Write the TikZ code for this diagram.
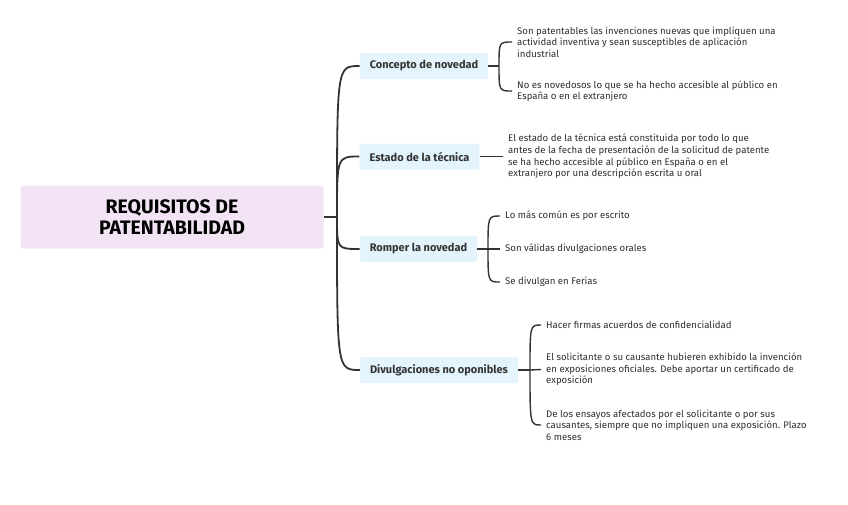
\documentclass[tikz,border=0pt]{standalone}
\usepackage{fontspec}
\setmainfont{Fira Sans}
\usepackage{tikz}
\usetikzlibrary{calc}
\definecolor{rootpink}{HTML}{F2E4F4}
\definecolor{topicblue}{HTML}{E3F4FC}
\definecolor{inkgray}{HTML}{333333}
\definecolor{leafgray}{HTML}{2E2E2E}

\begin{document}
\begin{tikzpicture}[x=1pt,y=-1pt,
 rootbox/.style={rounded corners=3pt,fill=rootpink,minimum width=303pt,minimum height=63pt,
  align=center,inner sep=0pt,font=\fontsize{19.5}{21}\selectfont\bfseries},
 topic/.style={rounded corners=2pt,fill=topicblue,minimum height=26pt,inner xsep=10pt,
  inner ysep=0pt,text=inkgray,font=\fontsize{11}{13}\selectfont\bfseries},
 leaf/.style={anchor=west,align=left,inner xsep=5pt,inner ysep=0pt,text=leafgray,
  font=\fontsize{9.6}{11.6}\selectfont},
 trunk/.style={draw=inkgray,line width=1.8pt},
 twig/.style={draw=inkgray,line width=1.4pt}]
\useasboundingbox (0,0) rectangle (848,504);

% raiz
\node[rootbox] (root) at (172,217) {REQUISITOS DE\\PATENTABILIDAD};
\coordinate (hub) at (337,217);

% temas
\node[topic] (concepto) at (424,66) {Concepto de novedad};
\node[topic] (estado) at (419.5,156.5) {Estado de la técnica};
\node[topic] (romper) at (418.5,249) {Romper la novedad};
\node[topic] (divulg) at (439,370) {Divulgaciones no oponibles};

\draw[trunk] (root.east) -- (hub);
\draw[trunk] (hub) .. controls (hub |- concepto.west) .. (concepto.west);
\draw[trunk] (hub) .. controls (hub |- estado.west) .. (estado.west);
\draw[trunk] (hub) .. controls (hub |- romper.west) .. (romper.west);
\draw[trunk] (hub) .. controls (hub |- divulg.west) .. (divulg.west);

% concepto de novedad
\coordinate (hubC) at (499,66);
\node[leaf] (c1) at (512,42) {Son patentables las invenciones nuevas que impliquen una\\
 actividad inventiva y sean susceptibles de aplicación\\industrial};
\node[leaf] (c2) at (512,91) {No es novedosos lo que se ha hecho accesible al público en\\
 España o en el extranjero};
\draw[twig] (concepto.east) -- (hubC);
\draw[twig] (hubC) .. controls (hubC |- c1.west) .. (c1.west);
\draw[twig] (hubC) .. controls (hubC |- c2.west) .. (c2.west);

% estado de la tecnica
\node[leaf] (e1) at (503,156.5) {El estado de la técnica está constituida por todo lo que\\
 antes de la fecha de presentación de la solicitud de patente\\
 se ha hecho accesible al público en España o en el\\
 extranjero por una descripción escrita u oral};
\draw[twig] (estado.east) -- (e1.west);

% romper la novedad
\coordinate (hubR) at (488,249);
\node[leaf] (r1) at (500,216) {Lo más común es por escrito};
\node[leaf] (r2) at (500,249) {Son válidas divulgaciones orales};
\node[leaf] (r3) at (500,282) {Se divulgan en Ferias};
\draw[twig] (romper.east) -- (hubR);
\draw[twig] (hubR) .. controls (hubR |- r1.west) .. (r1.west);
\draw[twig] (hubR) -- (r2.west);
\draw[twig] (hubR) .. controls (hubR |- r3.west) .. (r3.west);

% divulgaciones no oponibles
\coordinate (hubD) at (530,370);
\node[leaf] (d1) at (541,325) {Hacer firmas acuerdos de confidencialidad};
\node[leaf] (d2) at (541,369.5) {El solicitante o su causante hubieren exhibido la invención\\
 en exposiciones oficiales. Debe aportar un certificado de\\exposición};
\node[leaf] (d3) at (541,425) {De los ensayos afectados por el solicitante o por sus\\
 causantes, siempre que no impliquen una exposición. Plazo\\6 meses};
\draw[twig] (divulg.east) -- (hubD);
\draw[twig] (hubD) .. controls (hubD |- d1.west) .. (d1.west);
\draw[twig] (hubD) -- (d2.west);
\draw[twig] (hubD) .. controls (hubD |- d3.west) .. (d3.west);
\end{tikzpicture}
\end{document}
